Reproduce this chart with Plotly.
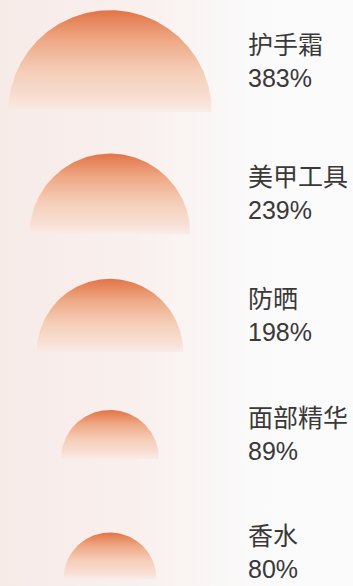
import numpy as np
import plotly.graph_objects as go

# ---- data ----
categories = ["护手霜", "美甲工具", "防晒", "面部精华", "香水"]
growth_pct = [383, 239, 198, 89, 80]

# ---- layout constants ----
W, H = 353, 586
row_base = [112, 234, 352, 459, 579]   # baseline of each semicircle (px from top)
center_x = 110
label_x = 246
scale_k = 5.2                           # radius = k * sqrt(value)
font_size = 25

fig = go.Figure()

# background horizontal gradient
fig.add_trace(go.Scatter(
    x=[0, W, W, 0, 0], y=[0, 0, H, H, 0], mode="lines", fill="toself",
    line=dict(width=0),
    fillgradient=dict(type="horizontal",
                      colorscale=[[0, "#f7ebe8"], [0.35, "#f9efed"],
                                  [0.55, "#faf5f4"], [0.7, "#fafafa"], [1, "#fbfbfb"]]),
    hoverinfo="skip", showlegend=False))

theta = np.linspace(0, np.pi, 181)
for name, v, base in zip(categories, growth_pct, row_base):
    r = scale_k * np.sqrt(v)
    xs = center_x + r * np.cos(theta)
    ys = base - r * np.sin(theta)
    xs = np.append(xs, xs[0])
    ys = np.append(ys, ys[0])
    fig.add_trace(go.Scatter(
        x=xs, y=ys, mode="lines", fill="toself", line=dict(width=0),
        fillgradient=dict(type="vertical",
                          colorscale=[[0, "#f9ece8"], [0.12, "#f8e0d5"],
                                      [0.4, "#f5cdb8"], [0.7, "#eeaa86"],
                                      [1, "#e27448"]]),
        hoverinfo="skip", showlegend=False))
    label_y = min(base - r / 2, H - 1.36 * font_size)
    fig.add_annotation(
        x=label_x, y=label_y, xref="x", yref="y",
        text=f"{name}<br>{v}%", showarrow=False,
        xanchor="left", yanchor="middle", align="left",
        font=dict(size=font_size, color="#3b3838",
                  family="Liberation Sans, Noto Sans CJK SC, sans-serif"))

fig.update_layout(
    width=W, height=H, margin=dict(l=0, r=0, t=0, b=0),
    paper_bgcolor="#fbfbfb", plot_bgcolor="#fbfbfb",
    xaxis=dict(range=[0, W], visible=False, fixedrange=True),
    yaxis=dict(range=[H, 0], visible=False, fixedrange=True),
    showlegend=False,
)

fig.write_html("out.html", config={"displayModeBar": False})
